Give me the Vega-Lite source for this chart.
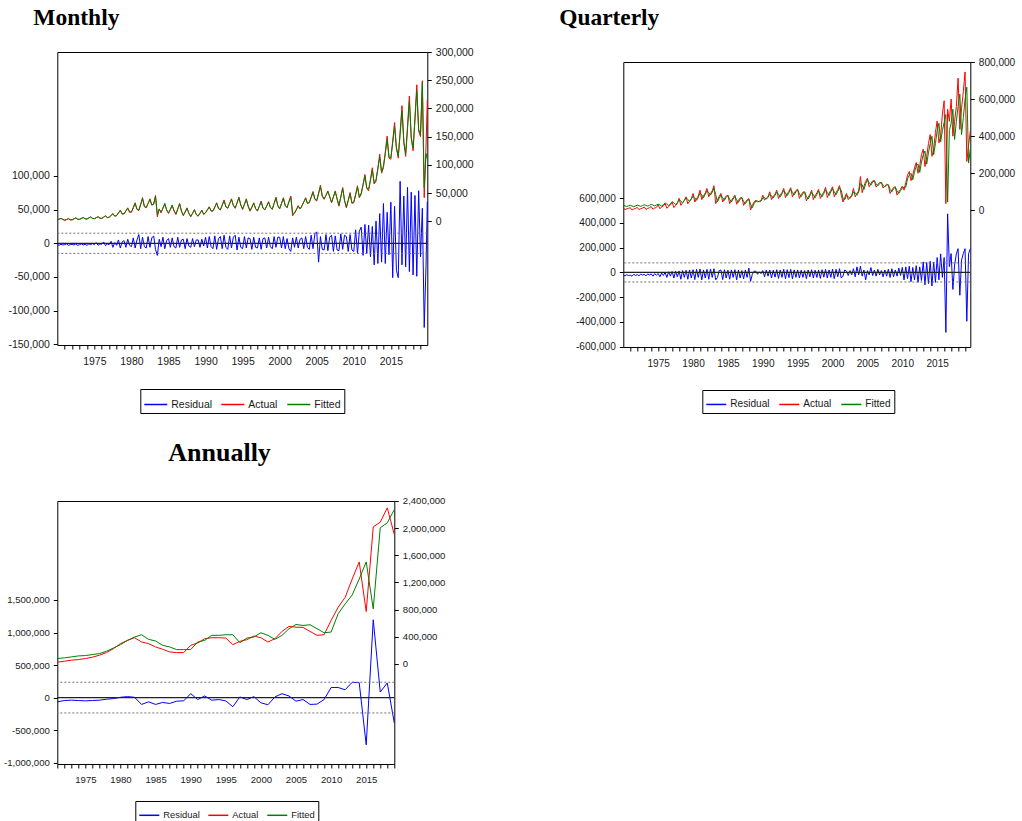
{
"$schema": "https://vega.github.io/schema/vega-lite/v6.json",
"background": "white",
"padding": {"left": 2.3, "top": 0, "right": 2, "bottom": 0},
"config": {
 "locale": {"number": {"decimal": ".", "thousands": ",", "grouping": [3], "currency": ["$", ""], "minus": "-"}},
 "view": {"stroke": "#000", "strokeWidth": 1},
 "font": "Liberation Sans",
 "axis": {"domain": false, "grid": false, "tickColor": "#000", "tickSize": 4, "labelColor": "#1a1a1a", "labelFont": "Liberation Sans", "labelPadding": 3, "tickCount": 100},
 "axisX": {"labelPadding": 7, "labelOverlap": false, "labelFlush": false},
 "legend": {"orient": "none", "direction": "horizontal", "symbolType": "stroke", "symbolStrokeWidth": 1.5, "strokeColor": "#000", "padding": 3, "columnPadding": 6, "labelOffset": 3, "labelFont": "Liberation Sans", "labelColor": "#1a1a1a"},
 "title": {"font": "Liberation Serif", "fontWeight": "bold", "color": "#000", "anchor": "start", "frame": "group"}
},
"datasets": {
"m": [
{"t":1970,"r":-2000,"a":2500,"f":3000},{"t":1970.25,"r":-3000,"a":4000,"f":4000},{"t":1970.5,"r":-1500,"a":5500,"f":5000},{"t":1970.75,"r":-2500,"a":3400,"f":3500},
{"t":1971,"r":-2000,"a":1500,"f":2500},{"t":1971.25,"r":-1000,"a":3300,"f":3200},{"t":1971.5,"r":-3000,"a":5000,"f":4600},{"t":1971.75,"r":-2000,"a":2500,"f":2800},
{"t":1972,"r":-1500,"a":2500,"f":3000},{"t":1972.25,"r":-2500,"a":4500,"f":4400},{"t":1972.5,"r":-1000,"a":6500,"f":6000},{"t":1972.75,"r":-3000,"a":3700,"f":3800},
{"t":1973,"r":-2000,"a":3500,"f":3800},{"t":1973.25,"r":-1000,"a":5300,"f":5200},{"t":1973.5,"r":-2500,"a":7000,"f":6700},{"t":1973.75,"r":-1500,"a":4500,"f":4600},
{"t":1974,"r":-3000,"a":4000,"f":4300},{"t":1974.25,"r":-1000,"a":6000,"f":6000},{"t":1974.5,"r":-2000,"a":8000,"f":7600},{"t":1974.75,"r":-500,"a":5200,"f":5300},
{"t":1975,"r":-2000,"a":4500,"f":4800},{"t":1975.25,"r":1000,"a":6500,"f":6400},{"t":1975.5,"r":-3000,"a":8500,"f":8100},{"t":1975.75,"r":-1000,"a":5700,"f":5800},
{"t":1976,"r":-1500,"a":5000,"f":5400},{"t":1976.25,"r":2000,"a":7500,"f":7400},{"t":1976.5,"r":-3500,"a":10000,"f":9600},{"t":1976.75,"r":-1000,"a":6500,"f":6600},
{"t":1977,"r":-2000,"a":7000,"f":7500},{"t":1977.25,"r":3000,"a":10500,"f":10300},{"t":1977.5,"r":-6000,"a":14000,"f":13400},{"t":1977.75,"r":1000,"a":9100,"f":9200},
{"t":1978,"r":-3000,"a":10000,"f":10600},{"t":1978.25,"r":5000,"a":15000,"f":14800},{"t":1978.5,"r":-7000,"a":20000,"f":19200},{"t":1978.75,"r":2000,"a":13000,"f":13200},
{"t":1979,"r":4000,"a":13000,"f":13600},{"t":1979.25,"r":-6000,"a":18500,"f":18200},{"t":1979.5,"r":6000,"a":24000,"f":23000},{"t":1979.75,"r":-3000,"a":16300,"f":16500},
{"t":1980,"r":-5000,"a":16000,"f":17000},{"t":1980.25,"r":8000,"a":24500,"f":24000},{"t":1980.5,"r":-7000,"a":33000,"f":31500},{"t":1980.75,"r":5000,"a":21100,"f":21500},
{"t":1981,"r":13000,"a":19000,"f":20000},{"t":1981.25,"r":-8000,"a":30500,"f":30000},{"t":1981.5,"r":9000,"a":42000,"f":40000},{"t":1981.75,"r":-5000,"a":25900,"f":26500},
{"t":1982,"r":-7000,"a":24000,"f":25000},{"t":1982.25,"r":10000,"a":32000,"f":31500},{"t":1982.5,"r":-6000,"a":40000,"f":38500},{"t":1982.75,"r":8000,"a":28800,"f":29000},
{"t":1983,"r":11000,"a":30000,"f":31000},{"t":1983.25,"r":-9000,"a":46000,"f":44000},{"t":1983.5,"r":-18000,"a":8000,"f":12000},{"t":1983.75,"r":6000,"a":22000,"f":22000},
{"t":1984,"r":-5000,"a":15000,"f":16000},{"t":1984.25,"r":9000,"a":23500,"f":23000},{"t":1984.5,"r":-8000,"a":32000,"f":30500},{"t":1984.75,"r":4000,"a":20000,"f":20500},
{"t":1985,"r":7000,"a":14000,"f":15000},{"t":1985.25,"r":-6000,"a":21500,"f":21000},{"t":1985.5,"r":8000,"a":29000,"f":28000},{"t":1985.75,"r":-5000,"a":18500,"f":19000},
{"t":1986,"r":-7000,"a":12000,"f":13000},{"t":1986.25,"r":9000,"a":22000,"f":21500},{"t":1986.5,"r":-6000,"a":32000,"f":30500},{"t":1986.75,"r":5000,"a":18000,"f":18500},
{"t":1987,"r":6000,"a":10000,"f":11000},{"t":1987.25,"r":-8000,"a":17000,"f":16500},{"t":1987.5,"r":7000,"a":24000,"f":23000},{"t":1987.75,"r":-4000,"a":14200,"f":14500},
{"t":1988,"r":-6000,"a":8000,"f":9000},{"t":1988.25,"r":7000,"a":14500,"f":14000},{"t":1988.5,"r":-5000,"a":21000,"f":20000},{"t":1988.75,"r":5000,"a":12000,"f":12300},
{"t":1989,"r":5000,"a":9000,"f":9800},{"t":1989.25,"r":-6000,"a":14500,"f":14200},{"t":1989.5,"r":6000,"a":20000,"f":19200},{"t":1989.75,"r":-4000,"a":12300,"f":12500},
{"t":1990,"r":9000,"a":15000,"f":15600},{"t":1990.25,"r":-7000,"a":20500,"f":20200},{"t":1990.5,"r":10000,"a":26000,"f":25000},{"t":1990.75,"r":-5000,"a":18300,"f":18500},
{"t":1991,"r":-8000,"a":18000,"f":18800},{"t":1991.25,"r":11000,"a":25500,"f":25000},{"t":1991.5,"r":-9000,"a":33000,"f":31800},{"t":1991.75,"r":7000,"a":22500,"f":22800},
{"t":1992,"r":10000,"a":20000,"f":21000},{"t":1992.25,"r":-8000,"a":29000,"f":28500},{"t":1992.5,"r":12000,"a":38000,"f":36500},{"t":1992.75,"r":-6000,"a":25400,"f":25800},
{"t":1993,"r":-9000,"a":23000,"f":24000},{"t":1993.25,"r":11000,"a":31500,"f":31000},{"t":1993.5,"r":-7000,"a":40000,"f":38500},{"t":1993.75,"r":9000,"a":28100,"f":28500},
{"t":1994,"r":12000,"a":23000,"f":24000},{"t":1994.25,"r":-10000,"a":33000,"f":32500},{"t":1994.5,"r":9000,"a":43000,"f":41500},{"t":1994.75,"r":-6000,"a":29000,"f":29400},
{"t":1995,"r":-8000,"a":21000,"f":22000},{"t":1995.25,"r":10000,"a":30500,"f":30000},{"t":1995.5,"r":-7000,"a":40000,"f":38500},{"t":1995.75,"r":8000,"a":26700,"f":27000},
{"t":1996,"r":7000,"a":18000,"f":19000},{"t":1996.25,"r":-9000,"a":25500,"f":25000},{"t":1996.5,"r":9000,"a":33000,"f":32000},{"t":1996.75,"r":-6000,"a":22500,"f":22800},
{"t":1997,"r":-7000,"a":18000,"f":19000},{"t":1997.25,"r":8000,"a":27000,"f":26500},{"t":1997.5,"r":-9000,"a":36000,"f":34500},{"t":1997.75,"r":7000,"a":23400,"f":23800},
{"t":1998,"r":8000,"a":20000,"f":21000},{"t":1998.25,"r":-7000,"a":27500,"f":27000},{"t":1998.5,"r":9000,"a":35000,"f":33800},{"t":1998.75,"r":-5000,"a":24500,"f":24800},
{"t":1999,"r":-8000,"a":21000,"f":22000},{"t":1999.25,"r":10000,"a":32000,"f":31500},{"t":1999.5,"r":-6000,"a":43000,"f":41200},{"t":1999.75,"r":9000,"a":27600,"f":28000},
{"t":2000,"r":9000,"a":22000,"f":23000},{"t":2000.25,"r":-7000,"a":32000,"f":31500},{"t":2000.5,"r":10000,"a":42000,"f":40500},{"t":2000.75,"r":-8000,"a":28000,"f":28400},
{"t":2001,"r":7000,"a":24000,"f":25000},{"t":2001.25,"r":-8000,"a":35000,"f":34500},{"t":2001.5,"r":-12000,"a":45000,"f":43000},{"t":2001.75,"r":8000,"a":10000,"f":14000},
{"t":2002,"r":-6000,"a":14000,"f":15000},{"t":2002.25,"r":9000,"a":21000,"f":20500},{"t":2002.5,"r":-7000,"a":28000,"f":27000},{"t":2002.75,"r":6000,"a":22000,"f":22000},
{"t":2003,"r":8000,"a":27000,"f":27500},{"t":2003.25,"r":-8000,"a":34500,"f":34000},{"t":2003.5,"r":10000,"a":42000,"f":40500},{"t":2003.75,"r":-6000,"a":31500,"f":31800},
{"t":2004,"r":-9000,"a":33000,"f":34000},{"t":2004.25,"r":12000,"a":43000,"f":42500},{"t":2004.5,"r":-8000,"a":53000,"f":51000},{"t":2004.75,"r":14000,"a":39000,"f":39500},
{"t":2005,"r":17000,"a":36000,"f":37000},{"t":2005.25,"r":-28000,"a":50000,"f":49000},{"t":2005.5,"r":10000,"a":64000,"f":61500},{"t":2005.75,"r":-9000,"a":44400,"f":45000},
{"t":2006,"r":-10000,"a":39000,"f":40000},{"t":2006.25,"r":13000,"a":46500,"f":46000},{"t":2006.5,"r":-11000,"a":54000,"f":52500},{"t":2006.75,"r":9000,"a":43500,"f":44000},
{"t":2007,"r":12000,"a":33000,"f":34000},{"t":2007.25,"r":-12000,"a":43500,"f":43000},{"t":2007.5,"r":11000,"a":54000,"f":52500},{"t":2007.75,"r":-10000,"a":39300,"f":39800},
{"t":2008,"r":-11000,"a":27000,"f":28500},{"t":2008.25,"r":14000,"a":43500,"f":43000},{"t":2008.5,"r":-9000,"a":60000,"f":58000},{"t":2008.75,"r":12000,"a":37000,"f":37500},
{"t":2009,"r":10000,"a":24000,"f":25500},{"t":2009.25,"r":-12000,"a":37500,"f":37000},{"t":2009.5,"r":13000,"a":51000,"f":49000},{"t":2009.75,"r":-10000,"a":32000,"f":32500},
{"t":2010,"r":-12000,"a":33000,"f":34500},{"t":2010.25,"r":20000,"a":48000,"f":47000},{"t":2010.5,"r":-15000,"a":63000,"f":60500},{"t":2010.75,"r":18000,"a":42000,"f":43000},
{"t":2011,"r":24000,"a":48000,"f":50000},{"t":2011.25,"r":-18000,"a":65500,"f":64500},{"t":2011.5,"r":28000,"a":83000,"f":80000},{"t":2011.75,"r":-15000,"a":58500,"f":59500},
{"t":2012,"r":27000,"a":54000,"f":57000},{"t":2012.25,"r":-20000,"a":74500,"f":73000},{"t":2012.5,"r":25000,"a":95000,"f":91000},{"t":2012.75,"r":-32000,"a":66300,"f":67500},
{"t":2013,"r":33000,"a":71000,"f":74000},{"t":2013.25,"r":-30000,"a":95000,"f":93000},{"t":2013.5,"r":44000,"a":119000,"f":114000},{"t":2013.75,"r":-28000,"a":85400,"f":87000},
{"t":2014,"r":59000,"a":95000,"f":98000},{"t":2014.25,"r":-30000,"a":123000,"f":120000},{"t":2014.5,"r":46000,"a":151000,"f":145000},{"t":2014.75,"r":-17000,"a":112000,"f":114000},
{"t":2015,"r":61000,"a":110000,"f":113000},{"t":2015.25,"r":-51000,"a":142500,"f":139000},{"t":2015.5,"r":55000,"a":175000,"f":168000},{"t":2015.75,"r":-40000,"a":129500,"f":131000},
{"t":2016,"r":-51000,"a":112000,"f":116000},{"t":2016.25,"r":92000,"a":158500,"f":154000},{"t":2016.5,"r":-32000,"a":205000,"f":196000},{"t":2016.75,"r":70000,"a":140000,"f":142000},
{"t":2017,"r":-35000,"a":115000,"f":120000},{"t":2017.25,"r":83000,"a":168500,"f":164000},{"t":2017.5,"r":-42000,"a":222000,"f":213000},{"t":2017.75,"r":76000,"a":147000,"f":150000},
{"t":2018,"r":-47000,"a":125000,"f":130000},{"t":2018.25,"r":71000,"a":183500,"f":178000},{"t":2018.5,"r":-49000,"a":242000,"f":232000},{"t":2018.75,"r":78000,"a":160000,"f":163000},
{"t":2019,"r":-20000,"a":150000,"f":155000},{"t":2019.25,"r":52000,"a":249000,"f":245000},{"t":2019.5,"r":-125000,"a":42000,"f":60000},{"t":2019.75,"r":-32000,"a":135000,"f":120000},{"t":2019.917,"r":62000,"a":215000,"f":110000}
],
"q": [
{"t":1970,"r":-20000,"a":15000,"f":28000},{"t":1970.25,"r":-28000,"a":3000,"f":24000},{"t":1970.5,"r":-18000,"a":8000,"f":20500},{"t":1970.75,"r":-25000,"a":11000,"f":24500},
{"t":1971,"r":-22000,"a":14000,"f":27500},{"t":1971.25,"r":-30000,"a":2000,"f":23000},{"t":1971.5,"r":-15000,"a":7000,"f":19500},{"t":1971.75,"r":-24000,"a":10000,"f":23500},
{"t":1972,"r":-18000,"a":16000,"f":28000},{"t":1972.25,"r":-26000,"a":4000,"f":25000},{"t":1972.5,"r":-14000,"a":9000,"f":21500},{"t":1972.75,"r":-22000,"a":12000,"f":25500},
{"t":1973,"r":-15000,"a":18000,"f":30000},{"t":1973.25,"r":-28000,"a":5000,"f":26500},{"t":1973.5,"r":-12000,"a":10000,"f":22500},{"t":1973.75,"r":-20000,"a":14000,"f":27000},
{"t":1974,"r":-12000,"a":20000,"f":32000},{"t":1974.25,"r":-30000,"a":6000,"f":28000},{"t":1974.5,"r":-10000,"a":12000,"f":24000},{"t":1974.75,"r":-22000,"a":16000,"f":29000},
{"t":1975,"r":-8000,"a":30000,"f":33000},{"t":1975.25,"r":-35000,"a":9000,"f":29500},{"t":1975.5,"r":-5000,"a":17000,"f":23000},{"t":1975.75,"r":-25000,"a":24000,"f":30500},
{"t":1976,"r":0,"a":36000,"f":40000},{"t":1976.25,"r":-40000,"a":11000,"f":33500},{"t":1976.5,"r":5000,"a":21000,"f":26000},{"t":1976.75,"r":-30000,"a":29000,"f":35000},
{"t":1977,"r":8000,"a":45000,"f":47000},{"t":1977.25,"r":-45000,"a":15000,"f":40000},{"t":1977.5,"r":10000,"a":27000,"f":31000},{"t":1977.75,"r":-35000,"a":36000,"f":41500},
{"t":1978,"r":12000,"a":65000,"f":55500},{"t":1978.25,"r":-55000,"a":27000,"f":51000},{"t":1978.5,"r":15000,"a":42000,"f":39500},{"t":1978.75,"r":-40000,"a":54000,"f":53000},
{"t":1979,"r":18000,"a":73000,"f":68500},{"t":1979.25,"r":-55000,"a":35000,"f":59000},{"t":1979.5,"r":20000,"a":50000,"f":47500},{"t":1979.75,"r":-45000,"a":62000,"f":61000},
{"t":1980,"r":22000,"a":91000,"f":76500},{"t":1980.25,"r":-58000,"a":45000,"f":68000},{"t":1980.5,"r":25000,"a":63000,"f":54000},{"t":1980.75,"r":-40000,"a":77000,"f":70000},
{"t":1981,"r":28000,"a":109000,"f":93000},{"t":1981.25,"r":-60000,"a":58000,"f":83500},{"t":1981.5,"r":20000,"a":78000,"f":68000},{"t":1981.75,"r":-45000,"a":94000,"f":86000},
{"t":1982,"r":25000,"a":118000,"f":106000},{"t":1982.25,"r":-55000,"a":73000,"f":95500},{"t":1982.5,"r":28000,"a":91000,"f":82000},{"t":1982.75,"r":-40000,"a":105000,"f":98000},
{"t":1983,"r":30000,"a":133000,"f":119000},{"t":1983.25,"r":-60000,"a":36000,"f":84500},{"t":1983.5,"r":-40000,"a":55000,"f":45500},{"t":1983.75,"r":15000,"a":75000,"f":65000},
{"t":1984,"r":20000,"a":91000,"f":83000},{"t":1984.25,"r":-58000,"a":45000,"f":68000},{"t":1984.5,"r":22000,"a":63000,"f":54000},{"t":1984.75,"r":-45000,"a":77000,"f":70000},
{"t":1985,"r":18000,"a":82000,"f":79500},{"t":1985.25,"r":-55000,"a":36000,"f":59000},{"t":1985.5,"r":20000,"a":54000,"f":45000},{"t":1985.75,"r":-40000,"a":68000,"f":61000},
{"t":1986,"r":22000,"a":82000,"f":75000},{"t":1986.25,"r":-60000,"a":33000,"f":57500},{"t":1986.5,"r":18000,"a":53000,"f":43000},{"t":1986.75,"r":-45000,"a":67000,"f":60000},
{"t":1987,"r":15000,"a":69000,"f":68000},{"t":1987.25,"r":-52000,"a":27000,"f":48000},{"t":1987.5,"r":20000,"a":44000,"f":35500},{"t":1987.75,"r":-40000,"a":56000,"f":50000},
{"t":1988,"r":35000,"a":64000,"f":60000},{"t":1988.25,"r":-72000,"a":2000,"f":33000},{"t":1988.5,"r":-15000,"a":27000,"f":14500},{"t":1988.75,"r":10000,"a":45000,"f":36000},
{"t":1989,"r":10000,"a":55000,"f":50000},{"t":1989.25,"r":-15000,"a":45000,"f":50000},{"t":1989.5,"r":5000,"a":49000,"f":47000},{"t":1989.75,"r":-10000,"a":52000,"f":50500},
{"t":1990,"r":15000,"a":82000,"f":67000},{"t":1990.25,"r":-35000,"a":55000,"f":68500},{"t":1990.5,"r":20000,"a":66000,"f":60500},{"t":1990.75,"r":-30000,"a":74000,"f":70000},
{"t":1991,"r":20000,"a":100000,"f":87000},{"t":1991.25,"r":-45000,"a":58000,"f":79000},{"t":1991.5,"r":18000,"a":75000,"f":66500},{"t":1991.75,"r":-38000,"a":87000,"f":81000},
{"t":1992,"r":22000,"a":109000,"f":98000},{"t":1992.25,"r":-48000,"a":64000,"f":86500},{"t":1992.5,"r":20000,"a":82000,"f":73000},{"t":1992.75,"r":-40000,"a":96000,"f":89000},
{"t":1993,"r":25000,"a":118000,"f":107000},{"t":1993.25,"r":-50000,"a":69000,"f":93500},{"t":1993.5,"r":22000,"a":89000,"f":79000},{"t":1993.75,"r":-42000,"a":103000,"f":96000},
{"t":1994,"r":25000,"a":122000,"f":112500},{"t":1994.25,"r":-52000,"a":73000,"f":97500},{"t":1994.5,"r":20000,"a":93000,"f":83000},{"t":1994.75,"r":-40000,"a":107000,"f":100000},
{"t":1995,"r":20000,"a":113000,"f":110000},{"t":1995.25,"r":-45000,"a":64000,"f":88500},{"t":1995.5,"r":18000,"a":84000,"f":74000},{"t":1995.75,"r":-40000,"a":98000,"f":91000},
{"t":1996,"r":15000,"a":100000,"f":99000},{"t":1996.25,"r":-50000,"a":51000,"f":75500},{"t":1996.5,"r":20000,"a":71000,"f":61000},{"t":1996.75,"r":-35000,"a":85000,"f":78000},
{"t":1997,"r":22000,"a":109000,"f":97000},{"t":1997.25,"r":-45000,"a":58000,"f":83500},{"t":1997.5,"r":18000,"a":78000,"f":68000},{"t":1997.75,"r":-40000,"a":94000,"f":86000},
{"t":1998,"r":20000,"a":113000,"f":103500},{"t":1998.25,"r":-48000,"a":64000,"f":88500},{"t":1998.5,"r":22000,"a":84000,"f":74000},{"t":1998.75,"r":-38000,"a":98000,"f":91000},
{"t":1999,"r":25000,"a":124000,"f":111000},{"t":1999.25,"r":-45000,"a":69000,"f":96500},{"t":1999.5,"r":20000,"a":91000,"f":80000},{"t":1999.75,"r":-40000,"a":108000,"f":99500},
{"t":2000,"r":28000,"a":127000,"f":117500},{"t":2000.25,"r":-50000,"a":73000,"f":100000},{"t":2000.5,"r":25000,"a":95000,"f":84000},{"t":2000.75,"r":-35000,"a":111000,"f":103000},
{"t":2001,"r":30000,"a":133000,"f":122000},{"t":2001.25,"r":-45000,"a":82000,"f":107500},{"t":2001.5,"r":-30000,"a":45000,"f":63500},{"t":2001.75,"r":20000,"a":70000,"f":57500},
{"t":2002,"r":10000,"a":91000,"f":80500},{"t":2002.25,"r":-25000,"a":58000,"f":74500},{"t":2002.5,"r":15000,"a":71000,"f":64500},{"t":2002.75,"r":-20000,"a":81000,"f":76000},
{"t":2003,"r":30000,"a":118000,"f":99500},{"t":2003.25,"r":-35000,"a":73000,"f":95500},{"t":2003.5,"r":45000,"a":91000,"f":82000},{"t":2003.75,"r":-20000,"a":105000,"f":98000},
{"t":2004,"r":50000,"a":182000,"f":143500},{"t":2004.25,"r":-30000,"a":95000,"f":138500},{"t":2004.5,"r":20000,"a":130000,"f":112500},{"t":2004.75,"r":-60000,"a":156000,"f":143000},
{"t":2005,"r":15000,"a":173000,"f":164500},{"t":2005.25,"r":-20000,"a":127000,"f":150000},{"t":2005.5,"r":40000,"a":145000,"f":136000},{"t":2005.75,"r":-25000,"a":159000,"f":152000},
{"t":2006,"r":20000,"a":160000,"f":159500},{"t":2006.25,"r":-30000,"a":125000,"f":142500},{"t":2006.5,"r":25000,"a":139000,"f":132000},{"t":2006.75,"r":-20000,"a":150000,"f":144500},
{"t":2007,"r":15000,"a":150000,"f":150000},{"t":2007.25,"r":-35000,"a":120000,"f":135000},{"t":2007.5,"r":20000,"a":132000,"f":126000},{"t":2007.75,"r":-30000,"a":141000,"f":136500},
{"t":2008,"r":25000,"a":136000,"f":138500},{"t":2008.25,"r":-40000,"a":91000,"f":113500},{"t":2008.5,"r":30000,"a":109000,"f":100000},{"t":2008.75,"r":-35000,"a":123000,"f":116000},
{"t":2009,"r":20000,"a":127000,"f":125000},{"t":2009.25,"r":-30000,"a":82000,"f":104500},{"t":2009.5,"r":35000,"a":100000,"f":91000},{"t":2009.75,"r":-25000,"a":114000,"f":107000},
{"t":2010,"r":40000,"a":130000,"f":120000},{"t":2010.25,"r":-60000,"a":109000,"f":125000},{"t":2010.5,"r":45000,"a":150000,"f":125000},{"t":2010.75,"r":-50000,"a":190000,"f":170000},
{"t":2011,"r":50000,"a":209000,"f":190000},{"t":2011.25,"r":-75000,"a":160000,"f":200000},{"t":2011.5,"r":40000,"a":190000,"f":165000},{"t":2011.75,"r":-60000,"a":230000,"f":205000},
{"t":2012,"r":55000,"a":258000,"f":240000},{"t":2012.25,"r":-80000,"a":200000,"f":250000},{"t":2012.5,"r":45000,"a":240000,"f":205000},{"t":2012.75,"r":-65000,"a":300000,"f":260000},
{"t":2013,"r":85000,"a":330000,"f":300000},{"t":2013.25,"r":-100000,"a":236000,"f":320000},{"t":2013.5,"r":80000,"a":290000,"f":250000},{"t":2013.75,"r":-90000,"a":360000,"f":310000},
{"t":2014,"r":90000,"a":409000,"f":360000},{"t":2014.25,"r":-110000,"a":291000,"f":400000},{"t":2014.5,"r":85000,"a":330000,"f":300000},{"t":2014.75,"r":-80000,"a":420000,"f":360000},
{"t":2015,"r":120000,"a":482000,"f":430000},{"t":2015.25,"r":-60000,"a":364000,"f":470000},{"t":2015.5,"r":150000,"a":400000,"f":370000},{"t":2015.75,"r":-40000,"a":520000,"f":430000},
{"t":2016,"r":120000,"a":591000,"f":474000},{"t":2016.25,"r":-484000,"a":36000,"f":517000},{"t":2016.5,"r":473000,"a":545000,"f":45000},{"t":2016.75,"r":47000,"a":480000,"f":430000},
{"t":2017,"r":152000,"a":600000,"f":470000},{"t":2017.25,"r":-137000,"a":400000,"f":545000},{"t":2017.5,"r":60000,"a":480000,"f":382000},{"t":2017.75,"r":150000,"a":560000,"f":480000},
{"t":2018,"r":192000,"a":713000,"f":560000},{"t":2018.25,"r":-184000,"a":436000,"f":627000},{"t":2018.5,"r":100000,"a":550000,"f":409000},{"t":2018.75,"r":153000,"a":640000,"f":500000},
{"t":2019,"r":192000,"a":746000,"f":600000},{"t":2019.25,"r":-394000,"a":264000,"f":664000},{"t":2019.5,"r":150000,"a":350000,"f":255000},{"t":2019.75,"r":192000,"a":427000,"f":330000}
],
"y": [
{"t":1971,"a":24000,"f":78000,"r":-65000},{"t":1972,"a":39000,"f":88000,"r":-45000},{"t":1973,"a":54000,"f":102000,"r":-40000},{"t":1974,"a":63000,"f":117000,"r":-45000},
{"t":1975,"a":78000,"f":122000,"r":-50000},{"t":1976,"a":98000,"f":137000,"r":-45000},{"t":1977,"a":127000,"f":151000,"r":-40000},{"t":1978,"a":166000,"f":185000,"r":-25000},
{"t":1979,"a":224000,"f":234000,"r":-15000},{"t":1980,"a":298000,"f":283000,"r":5000},{"t":1981,"a":346000,"f":346000,"r":15000},{"t":1982,"a":385000,"f":395000,"r":5000},
{"t":1983,"a":322000,"f":429000,"r":-105000},{"t":1984,"a":298000,"f":361000,"r":-65000},{"t":1985,"a":249000,"f":337000,"r":-105000},{"t":1986,"a":215000,"f":273000,"r":-75000},
{"t":1987,"a":176000,"f":249000,"r":-90000},{"t":1988,"a":166000,"f":210000,"r":-55000},{"t":1989,"a":166000,"f":210000,"r":-50000},{"t":1990,"a":273000,"f":210000,"r":60000},
{"t":1991,"a":307000,"f":322000,"r":-30000},{"t":1992,"a":371000,"f":346000,"r":25000},{"t":1993,"a":385000,"f":420000,"r":-40000},{"t":1994,"a":385000,"f":420000,"r":-30000},
{"t":1995,"a":380000,"f":429000,"r":-50000},{"t":1996,"a":283000,"f":429000,"r":-140000},{"t":1997,"a":332000,"f":312000,"r":10000},{"t":1998,"a":356000,"f":380000,"r":-30000},
{"t":1999,"a":410000,"f":395000,"r":15000},{"t":2000,"a":385000,"f":459000,"r":-80000},{"t":2001,"a":322000,"f":420000,"r":-110000},{"t":2002,"a":371000,"f":361000,"r":10000},
{"t":2003,"a":478000,"f":420000,"r":60000},{"t":2004,"a":551000,"f":517000,"r":25000},{"t":2005,"a":541000,"f":580000,"r":-55000},{"t":2006,"a":537000,"f":566000,"r":-30000},
{"t":2007,"a":478000,"f":576000,"r":-105000},{"t":2008,"a":420000,"f":517000,"r":-100000},{"t":2009,"a":429000,"f":459000,"r":-30000},{"t":2010,"a":639000,"f":468000,"r":155000},
{"t":2011,"a":834000,"f":737000,"r":155000},{"t":2012,"a":980000,"f":883000,"r":120000},{"t":2013,"a":1249000,"f":1015000,"r":235000},{"t":2014,"a":1502000,"f":1249000,"r":230000},
{"t":2015,"a":771000,"f":1502000,"r":-725000},{"t":2016,"a":2019000,"f":810000,"r":1195000},{"t":2017,"a":2088000,"f":2005000,"r":85000},{"t":2018,"a":2298000,"f":2078000,"r":225000},
{"t":2019,"a":1907000,"f":2273000,"r":-390000}
]
},
"resolve": {"scale": {"color": "independent"}, "legend": {"color": "independent"}},
"align": "none",
"spacing": 25,
"vconcat": [
{
 "align": "none",
 "columns": 2,
 "spacing": {"row": 4, "column": 84},
 "resolve": {"scale": {"color": "independent"}, "legend": {"color": "independent"}},
 "concat": [
  {"width": 1, "height": 1, "view": {"stroke": null}, "data": {"values": []}, "mark": "point"},
  {"width": 1, "height": 1, "view": {"stroke": null}, "data": {"values": []}, "mark": "point"},
  {
   "width": 370, "height": 293,
   "title": {"text": "Monthly", "fontSize": 23.5, "dx": -24, "offset": 18},
   "layer": [
    {"layer": [
     {"data": {"name": "m"}, "mark": {"type": "line", "strokeWidth": 1},
      "encoding": {
       "x": {"field": "t", "type": "quantitative", "scale": {"domain": [1970, 2019.917], "nice": false, "zero": false}, "axis": {"title": null, "values": [1971,1972,1973,1974,1975,1976,1977,1978,1979,1980,1981,1982,1983,1984,1985,1986,1987,1988,1989,1990,1991,1992,1993,1994,1995,1996,1997,1998,1999,2000,2001,2002,2003,2004,2005,2006,2007,2008,2009,2010,2011,2012,2013,2014,2015,2016,2017,2018,2019], "tickCount": 100, "format": "d", "labelExpr": "datum.value % 5 === 0 ? datum.label : ''", "labelFontSize": 10.5}},
       "y": {"field": "r", "type": "quantitative", "scale": {"domain": [-151000, 284000], "nice": false, "zero": false}, "axis": {"title": null, "values": [-150000,-100000,-50000,0,50000,100000], "format": ",d", "labelFontSize": 10.5, "labelPadding": 4}},
       "color": {"datum": "r", "type": "nominal", "title": null, "scale": {"domain": ["r","a","f"], "range": ["#0000ff","#ff0000","#008000"]}, "legend": {"title": null, "legendX": 83, "legendY": 337, "symbolSize": 529, "labelFontSize": 10.5, "labelExpr": "datum.label == 'r' ? 'Residual' : datum.label == 'a' ? 'Actual' : 'Fitted'"}}
      }},
     {"data": {"values": [{}]}, "mark": {"type": "rule", "color": "#222", "strokeWidth": 1.3}, "encoding": {"y": {"datum": 0}}},
     {"data": {"values": [{}]}, "mark": {"type": "rule", "color": "#707070", "strokeWidth": 1, "strokeDash": [2, 2]}, "encoding": {"y": {"datum": 15000}}},
     {"data": {"values": [{}]}, "mark": {"type": "rule", "color": "#707070", "strokeWidth": 1, "strokeDash": [2, 2]}, "encoding": {"y": {"datum": -15000}}}
    ]},
    {"data": {"name": "m"}, "transform": [{"fold": ["a", "f"], "as": ["k", "v"]}], "mark": {"type": "line", "strokeWidth": 1},
     "encoding": {
      "x": {"field": "t", "type": "quantitative"},
      "y": {"field": "v", "type": "quantitative", "scale": {"domain": [-219000, 300000], "nice": false, "zero": false}, "axis": {"orient": "right", "title": null, "values": [0,50000,100000,150000,200000,250000,300000], "format": ",d", "labelFontSize": 10.5, "labelPadding": 4}},
      "color": {"field": "k", "type": "nominal", "title": null, "legend": {"title": null, "legendX": 83, "legendY": 337, "symbolSize": 529, "labelFontSize": 10.5, "labelExpr": "datum.label == 'r' ? 'Residual' : datum.label == 'a' ? 'Actual' : 'Fitted'"}}
     }}
   ],
   "resolve": {"scale": {"y": "independent"}}
  },
  {
   "width": 347, "height": 285,
   "title": {"text": "Quarterly", "fontSize": 23.4, "dx": -64, "offset": 27},
   "layer": [
    {"layer": [
     {"data": {"name": "q"}, "mark": {"type": "line", "strokeWidth": 1},
      "encoding": {
       "x": {"field": "t", "type": "quantitative", "scale": {"domain": [1970, 2019.75], "nice": false, "zero": false}, "axis": {"title": null, "values": [1971,1972,1973,1974,1975,1976,1977,1978,1979,1980,1981,1982,1983,1984,1985,1986,1987,1988,1989,1990,1991,1992,1993,1994,1995,1996,1997,1998,1999,2000,2001,2002,2003,2004,2005,2006,2007,2008,2009,2010,2011,2012,2013,2014,2015,2016,2017,2018,2019], "tickCount": 100, "format": "d", "labelExpr": "datum.value % 5 === 0 ? datum.label : ''", "labelFontSize": 10.1}},
       "y": {"field": "r", "type": "quantitative", "scale": {"domain": [-602000, 1699000], "nice": false, "zero": false}, "axis": {"title": null, "values": [-600000,-400000,-200000,0,200000,400000,600000], "format": ",d", "labelFontSize": 10.1, "labelPadding": 4}},
       "color": {"datum": "r", "type": "nominal", "title": null, "scale": {"domain": ["r","a","f"], "range": ["#0000ff","#ff0000","#008000"]}, "legend": {"title": null, "legendX": 79, "legendY": 328, "symbolSize": 400, "labelFontSize": 10.1, "labelExpr": "datum.label == 'r' ? 'Residual' : datum.label == 'a' ? 'Actual' : 'Fitted'"}}
      }},
     {"data": {"values": [{}]}, "mark": {"type": "rule", "color": "#222", "strokeWidth": 1.3}, "encoding": {"y": {"datum": 0}}},
     {"data": {"values": [{}]}, "mark": {"type": "rule", "color": "#707070", "strokeWidth": 1, "strokeDash": [2, 2]}, "encoding": {"y": {"datum": 77000}}},
     {"data": {"values": [{}]}, "mark": {"type": "rule", "color": "#707070", "strokeWidth": 1, "strokeDash": [2, 2]}, "encoding": {"y": {"datum": -77000}}}
    ]},
    {"data": {"name": "q"}, "transform": [{"fold": ["a", "f"], "as": ["k", "v"]}], "mark": {"type": "line", "strokeWidth": 1},
     "encoding": {
      "x": {"field": "t", "type": "quantitative"},
      "y": {"field": "v", "type": "quantitative", "scale": {"domain": [-737000, 800000], "nice": false, "zero": false}, "axis": {"orient": "right", "title": null, "values": [0,200000,400000,600000,800000], "format": ",d", "labelFontSize": 10.1, "labelPadding": 4}},
      "color": {"field": "k", "type": "nominal", "title": null, "legend": {"title": null, "legendX": 79, "legendY": 328, "symbolSize": 400, "labelFontSize": 10.1, "labelExpr": "datum.label == 'r' ? 'Residual' : datum.label == 'a' ? 'Actual' : 'Fitted'"}}
     }}
   ],
   "resolve": {"scale": {"y": "independent"}}
  }
 ]
},
{
 "width": 337, "height": 263,
 "title": {"text": "Annually", "fontSize": 26, "dx": 111, "offset": 30},
 "layer": [
  {"layer": [
   {"data": {"name": "y"}, "mark": {"type": "line", "strokeWidth": 1},
    "encoding": {
     "x": {"field": "t", "type": "quantitative", "scale": {"domain": [1971, 2019], "nice": false, "zero": false}, "axis": {"title": null, "values": [1971,1972,1973,1974,1975,1976,1977,1978,1979,1980,1981,1982,1983,1984,1985,1986,1987,1988,1989,1990,1991,1992,1993,1994,1995,1996,1997,1998,1999,2000,2001,2002,2003,2004,2005,2006,2007,2008,2009,2010,2011,2012,2013,2014,2015,2016,2017,2018,2019], "tickCount": 100, "format": "d", "labelExpr": "datum.value % 5 === 0 ? datum.label : ''", "labelFontSize": 9.6}},
     "y": {"field": "r", "type": "quantitative", "scale": {"domain": [-1020000, 3020000], "nice": false, "zero": false}, "axis": {"title": null, "values": [-1000000,-500000,0,500000,1000000,1500000], "format": ",d", "labelFontSize": 9.6, "labelPadding": 4}},
     "color": {"datum": "r", "type": "nominal", "title": null, "scale": {"domain": ["r","a","f"], "range": ["#0000ff","#ff0000","#008000"]}, "legend": {"title": null, "legendX": 78, "legendY": 300, "symbolSize": 400, "columnPadding": 5, "labelFontSize": 9.4, "labelExpr": "datum.label == 'r' ? 'Residual' : datum.label == 'a' ? 'Actual' : 'Fitted'"}}
    }},
   {"data": {"values": [{}]}, "mark": {"type": "rule", "color": "#222", "strokeWidth": 1.3}, "encoding": {"y": {"datum": 0}}},
   {"data": {"values": [{}]}, "mark": {"type": "rule", "color": "#707070", "strokeWidth": 1, "strokeDash": [2, 2]}, "encoding": {"y": {"datum": 236000}}},
   {"data": {"values": [{}]}, "mark": {"type": "rule", "color": "#707070", "strokeWidth": 1, "strokeDash": [2, 2]}, "encoding": {"y": {"datum": -236000}}}
  ]},
  {"data": {"name": "y"}, "transform": [{"fold": ["a", "f"], "as": ["k", "v"]}], "mark": {"type": "line", "strokeWidth": 1},
   "encoding": {
    "x": {"field": "t", "type": "quantitative"},
    "y": {"field": "v", "type": "quantitative", "scale": {"domain": [-1476000, 2400000], "nice": false, "zero": false}, "axis": {"orient": "right", "title": null, "values": [0,400000,800000,1200000,1600000,2000000,2400000], "format": ",d", "labelFontSize": 9.6, "labelPadding": 4}},
    "color": {"field": "k", "type": "nominal", "title": null, "legend": {"title": null, "legendX": 78, "legendY": 300, "symbolSize": 400, "columnPadding": 5, "labelFontSize": 9.4, "labelExpr": "datum.label == 'r' ? 'Residual' : datum.label == 'a' ? 'Actual' : 'Fitted'"}}
   }}
 ],
 "resolve": {"scale": {"y": "independent"}}
}
]
}
